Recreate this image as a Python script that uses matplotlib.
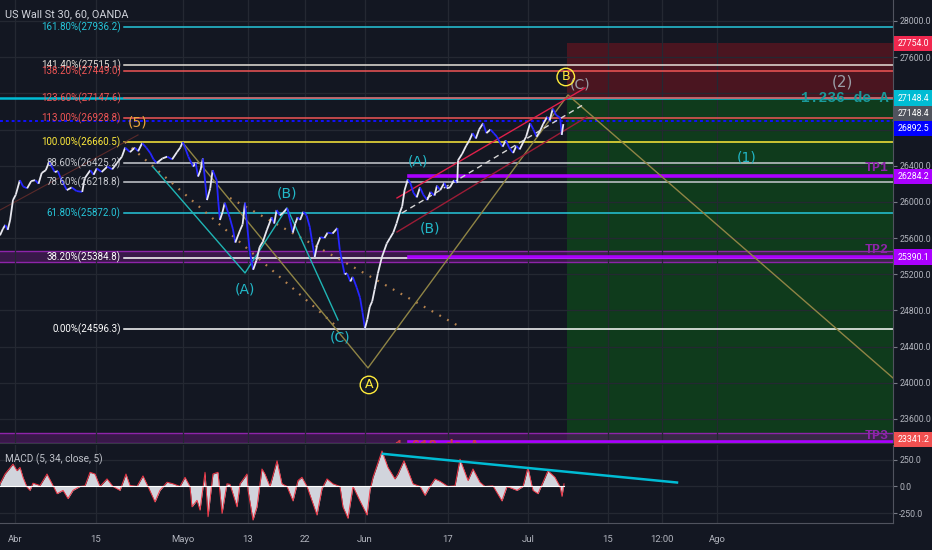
import matplotlib
matplotlib.use("Agg")
import matplotlib.pyplot as plt
from matplotlib import font_manager as fm
from matplotlib.collections import LineCollection
from matplotlib.patches import Rectangle

# ---------------- data (time in trading-session units, Abr 1 = 0) ----------------
price_day = [-1.85, -1.5, -1.2, -0.9, -0.6, -0.25, 0.1, 0.6, 1.0, 1.5, 2.0, 2.5, 2.9, 3.3, 3.8, 4.2, 4.6, 4.9,
             5.3, 5.6, 6.0, 6.4, 7.0, 7.6, 8.3, 8.6, 9.3, 9.7, 10.1, 10.7, 11.4, 12.0, 12.6, 13.2, 13.6, 14.2,
             14.8, 15.2, 15.7, 16.2, 16.7, 17.1, 17.5, 18.2, 18.8, 19.4, 20.0, 20.4, 20.7, 21.0, 21.4, 22.0,
             22.3, 22.6, 22.9, 23.2, 23.5, 23.7, 24.1, 24.4, 24.9, 25.1, 25.3, 25.6, 25.9, 26.5, 26.9, 27.2,
             27.8, 28.1, 28.4, 28.7, 29.0, 29.4, 29.8, 30.2, 30.6, 31.1, 31.7, 32.0, 32.3, 32.7, 33.1, 33.6,
             34.0, 34.3, 34.6, 34.9, 35.2, 35.6, 36.0, 36.4, 36.7, 37.0, 37.3, 37.7, 38.2, 38.6, 39.2, 39.8,
             40.1, 40.4, 40.7, 41.0, 41.4, 41.7, 42.2, 42.6, 42.9, 43.2, 43.5, 43.8, 44.1, 44.4, 44.8, 45.3,
             45.9, 46.3, 46.7, 47.1, 47.5, 47.8, 48.1, 48.5, 48.8, 49.2, 49.6, 50.0, 50.4, 50.9, 51.3, 51.8,
             52.1, 52.5, 53.0, 53.3, 53.7, 54.2, 54.6, 54.7, 55.2, 55.7, 56.1, 56.5, 56.9, 57.3, 57.8, 58.2,
             58.7, 59.1, 59.5, 59.9, 60.2, 60.6, 61.0, 61.5, 61.9, 62.3, 62.7, 63.1, 63.6, 64.0, 64.4, 64.8,
             65.2, 65.7, 66.0, 66.4, 66.8, 67.3, 67.5, 67.7]
price_val = [25630, 25700, 25745, 25690, 25800, 26020, 26080, 26240, 26170, 26150, 26230, 26240, 26200, 26320,
             26350, 26440, 26380, 26330, 26340, 26270, 26200, 26130, 26160, 26120, 26110, 26260, 26350, 26300,
             26370, 26330, 26390, 26360, 26430, 26500, 26600, 26550, 26600, 26560, 26650, 26600, 26540, 26470,
             26430, 26480, 26500, 26470, 26550, 26600, 26660, 26600, 26500, 26390, 26430, 26280, 26350, 26480,
             26200, 26020, 26150, 26350, 26240, 26000, 25800, 25880, 25990, 25830, 25700, 25550, 25690, 25750,
             25990, 25700, 25440, 25250, 25350, 25500, 25560, 25690, 25830, 25760, 25910, 25850, 25880, 25930,
             25780, 25660, 25760, 25830, 25800, 25890, 25850, 25720, 25550, 25390, 25520, 25610, 25600, 25660,
             25650, 25710, 25470, 25330, 25200, 25210, 25120, 25170, 25050, 24940, 24780, 24600, 24700, 24840,
             24900, 25030, 25210, 25390, 25540, 25600, 25660, 25760, 25880, 25950, 26130, 26250, 26210, 26100,
             26050, 26160, 26080, 26020, 26110, 26070, 26180, 26130, 26210, 26150, 26160, 26240, 26210, 26460,
             26530, 26620, 26680, 26760, 26700, 26800, 26870, 26760, 26800, 26760, 26720, 26650, 26610, 26680,
             26600, 26540, 26620, 26580, 26650, 26720, 26870, 26800, 26720, 26780, 26860, 26940, 26900, 27030,
             26960, 26930, 26740, 26860]

macd_day = [-1.85, -1.23, -0.25, 0.25, 0.62, 0.99, 1.48, 1.85, 2.22, 3.09, 3.95, 4.69, 5.19, 5.93, 6.54, 7.16,
            8.02, 8.64, 9.26, 9.88, 10.49, 11.36, 12.1, 12.96, 13.7, 14.2, 15.06, 15.8, 16.42, 17.28, 17.9,
            18.77, 19.51, 20.37, 20.99, 21.6, 21.85, 22.47, 22.84, 23.46, 23.83, 24.44, 25.06, 25.56, 26.17,
            26.54, 27.41, 27.78, 28.64, 28.77, 29.38, 29.88, 30.49, 30.86, 31.48, 32.35, 32.96, 33.58, 34.32,
            34.94, 35.43, 36.05, 37.28, 37.9, 38.52, 39.26, 40.12, 40.49, 41.11, 41.73, 42.59, 43.46, 43.83,
            44.2, 45.31, 46.05, 46.91, 47.28, 48.02, 48.52, 49.14, 50.0, 50.62, 51.23, 51.85, 52.47, 53.46,
            54.32, 54.94, 55.93, 56.54, 57.41, 58.02, 59.01, 60.12, 60.74, 61.98, 62.72, 63.33, 63.95, 64.57,
            65.19, 65.8, 66.67, 67.28, 67.53, 67.78]
macd_val = [25, 117, 210, 148, 179, 86, -6, -37, 31, 9, 117, 9, -68, -37, -114, -37, 0, 5, 133, 117, 0, 71,
            0, -37, 117, 9, 0, 99, 0, -145, -37, 40, 25, 0, 86, 0, -191, -130, -222, 133, -284, 117, 133,
            -253, 25, 20, -191, 25, 117, -37, -315, -191, 164, 117, 0, 241, 25, 0, -136, 56, 86, 0, -268,
            -21, 71, 25, 0, -191, -299, 0, -136, -268, -37, 86, 333, 179, 71, 117, 241, 148, 25, 0, -83, 0,
            71, 49, 0, 5, 256, 56, 164, 40, 0, 5, -136, 0, -37, 0, 179, -37, -68, 40, 148, 86, 0, -93, 25]
macd_trend_day = [45.43, 81.73]
macd_trend_val = [306, 37]

time_tick_day = [0, 10.0, 20.74, 28.77, 35.8, 43.2, 53.46, 63.33, 73.2, 79.88, 86.67]
time_tick_lbl = ["Abr", "15", "Mayo", "13", "22", "Jun", "17", "Jul", "15", "12:00", "Ago"]

fib_pct = ["161.80%", "141.40%", "138.20%", "123.60%", "113.00%", "100.00%", "88.60%", "78.60%",
           "61.80%", "38.20%", "0.00%"]
fib_level = [27936.2, 27515.1, 27449.0, 27147.6, 26928.8, 26660.5, 26425.2, 26218.8, 25872.0, 25384.8, 24596.3]
fib_color = ["#26c6da", "#e6e0d8", "#f05555", "#f05555", "#f05555", "#ffeb3b", "#c8cad0", "#c8cad0",
             "#26c6da", "#ffffff", "#ffffff"]
fib_start_day = 13.46

price_grid = [23600, 24000, 24400, 24800, 25200, 25600, 26000, 26400, 26800, 27200, 27600, 28000]
price_grid_lbl = ["23600.0", "24000.0", "24400.0", "24800.0", "25200.0", "25600.0", "26000.0", "26400.0",
                  "", "", "27600.0", "28000.0"]

# position tool
pos_start_day = 68.15
pos_entry = 27148.4
pos_stop = 27754.0
pos_target = 23341.2
tp1, tp2, tp3 = 26284.2, 25390.1, 23341.2
tp_line_start_day = 48.6
tp2_band = (25336, 25457)
tp3_band = (23334, 23445)
blue_level = 26892.5

# wave drawings (day, price)
abc_day = [17.04, 28.4, 33.58, 39.88]
abc_val = [26386, 25214, 25933, 24694]
khaki_day = [20.74, 43.58, 68.27, 108.4]
khaki_val = [26651, 24164, 27182, 24053]
dot1_day = [13.58, 39.5]
dot1_val = [26662, 24639]
dot2_day = [26.54, 55.19]
dot2_val = [26043, 24606]
faint_day = [-1.85, 15.19]
faint_val = [25910, 26740]
chan_up_day = [47.16, 70.37]
chan_up_val = [26043, 27259]
chan_lo_day = [47.16, 70.6]
chan_lo_val = [25667, 26939]
chan_mid_day = [47.78, 70.1]
chan_mid_val = [25877, 27071]

# ---------------- style ----------------
BG = "#131722"
GRID = "#242832"
AXTXT = "#b2b5be"
names = {f.name for f in fm.fontManager.ttflist}
NARROW = "Liberation Sans Narrow" if "Liberation Sans Narrow" in names else "Roboto"
MONO = "Liberation Mono" if "Liberation Mono" in names else "DejaVu Sans Mono"
AXFS = 6.3

W, H = 932, 550
fig = plt.figure(figsize=(W / 100, H / 100), dpi=100, facecolor=BG)
ax = fig.add_axes([0, 1 - 443 / H, 893 / W, 443 / H], facecolor=BG)
axm = fig.add_axes([0, 1 - 523 / H, 893 / W, 78 / H], facecolor=BG)

XMIN, XMAX = -1.852, 108.4
for a in (ax, axm):
    a.set_xlim(XMIN, XMAX)
    a.set_xticks(time_tick_day)
    a.grid(True, color=GRID, lw=0.9)
    a.set_axisbelow(True)
    for s in ("top", "left"):
        a.spines[s].set_visible(False)
    a.spines["right"].set_color("#50535e")
    a.spines["bottom"].set_color("#363a45")
    a.yaxis.tick_right()
    a.tick_params(axis="y", colors="#787b86", labelcolor=AXTXT, length=3, width=0.8, pad=1.5)

ax.set_ylim(23334, 28232)
ax.set_yticks(price_grid)
ax.set_yticklabels(price_grid_lbl, fontsize=AXFS, family=NARROW)
ax.tick_params(axis="x", length=0, labelbottom=False)

axm.set_ylim(-343, 389)
axm.set_yticks([-250, 0, 250])
axm.set_yticklabels(["-250.0", "0.0", "250.0"], fontsize=AXFS, family=NARROW)
axm.set_xticklabels(time_tick_lbl, fontsize=6.8, color=AXTXT, family=NARROW)
axm.tick_params(axis="x", length=0, pad=9)
axm.spines["bottom"].set_color("#50535e")

# ---------------- position tool ----------------
ax.add_patch(Rectangle((pos_start_day, pos_entry), XMAX - pos_start_day, pos_stop - pos_entry,
                       fc="#4a1520", ec="none", zorder=0.2))
ax.add_patch(Rectangle((pos_start_day, pos_target), XMAX - pos_start_day, pos_entry - pos_target,
                       fc="#0f3b1c", ec="none", zorder=0.2))

# purple bands
for lo, hi in (tp2_band, tp3_band):
    ax.axhspan(lo, hi, fc="#5a1a6a", alpha=0.55, ec="none", zorder=0.3)
    ax.axhline(hi, color="#8e24aa", lw=1.0, zorder=0.35)
    ax.axhline(lo, color="#8e24aa", lw=1.0, zorder=0.35)

# full-width horizontal lines
ax.axhline(pos_entry, color="#00bcd4", lw=1.8, zorder=1)
ax.axhline(blue_level, color="#1010ff", lw=1.4, ls=(0, (1.5, 1.5)), zorder=1)

# fib lines and labels
for pct, lvl, c in zip(fib_pct, fib_level, fib_color):
    ax.plot([fib_start_day, XMAX], [lvl, lvl], color=c, lw=1.1, zorder=1.2)
    ax.text(fib_start_day - 0.4, lvl, f"{pct}({lvl:.1f})", color=c, fontsize=7, family=NARROW,
            ha="right", va="center", zorder=3)

# TP lines
for lvl in (tp1, tp2, tp3):
    ax.plot([tp_line_start_day, XMAX], [lvl, lvl], color="#aa00ff", lw=2.6, zorder=1.3)

# ---------------- drawings ----------------
ax.plot(faint_day, faint_val, color="#5a2a2a", lw=0.8, zorder=1.5)
ax.plot(dot1_day, dot1_val, color="#b5824e", lw=1.6, ls=(0, (0.8, 3.2)), zorder=1.6)
ax.plot(dot2_day, dot2_val, color="#b5824e", lw=1.6, ls=(0, (0.8, 3.2)), zorder=1.6)
ax.plot(khaki_day, khaki_val, color="#8f8445", lw=1.0, zorder=1.6)
ax.plot(abc_day, abc_val, color="#1fb5b5", lw=1.0, zorder=1.7)
ax.plot(chan_up_day, chan_up_val, color="#e0204a", lw=1.0, zorder=1.7)
ax.plot(chan_lo_day, chan_lo_val, color="#9c1c36", lw=1.0, zorder=1.7)
ax.plot(chan_mid_day, chan_mid_val, color="#d8d8d8", lw=1.0, ls=(0, (4, 3)), zorder=1.7)

# price path, up segments white, down segments blue
segs, cols = [], []
for i in range(len(price_day) - 1):
    segs.append([(price_day[i], price_val[i]), (price_day[i + 1], price_val[i + 1])])
    cols.append("#e8e8f0" if price_val[i + 1] >= price_val[i] else "#2626ff")
ax.add_collection(LineCollection(segs, colors=cols, linewidths=1.3, zorder=2.5))

# wave labels
cy = "#22b8c8"
for txt, d, p in (("(A)", 28.4, 25026), ("(B)", 33.58, 26098), ("(C)", 40.12, 24495),
                  ("(A)", 49.75, 26441), ("(B)", 51.23, 25711)):
    ax.text(d, p, txt, color=cy, fontsize=10, ha="center", va="center", zorder=4)
ax.text(15.19, 26883, "(5)", color="#e8a33c", fontsize=10, ha="center", va="center", zorder=4)
ax.text(69.75, 27303, "(C)", color="#9a9da6", fontsize=10, ha="center", va="center", zorder=4)
ax.text(102.1, 27326, "(2)", color="#9a9da6", fontsize=11, ha="center", va="center", zorder=4)
ax.text(90.37, 26496, "(1)", color=cy, fontsize=10, ha="center", va="center", zorder=4)
for txt, d, p in (("A", 43.7, 23976), ("B", 68.0, 27381)):
    ax.text(d, p, txt, color="#ffeb3b", fontsize=9, ha="center", va="center", zorder=4,
            bbox=dict(boxstyle="circle,pad=0.18", fc="none", ec="#ffeb3b", lw=1.0))

ax.text(107.8, 27149, "1.236 de A", color="#1a9a9a", fontsize=10.5, family=MONO, weight="bold",
        ha="right", va="center", zorder=4)
ax.text(107.8, 26375, "TP1", color="#8e24aa", fontsize=9.5, family=MONO, weight="bold",
        ha="right", va="center", zorder=4)
ax.text(107.8, 25468, "TP2", color="#8e24aa", fontsize=9.5, family=MONO, weight="bold",
        ha="right", va="center", zorder=4)
ax.text(107.8, 23412, "TP3", color="#8e24aa", fontsize=9.5, family=MONO, weight="bold",
        ha="right", va="center", zorder=4)
ax.text(52.1, 23300, "1.618 de A", color="#d03a4a", fontsize=10, family=MONO, weight="bold",
        ha="center", va="center", zorder=4, clip_on=True)

# title
ax.text(0.006, 0.968, "US Wall St 30, 60, OANDA", transform=ax.transAxes, color="#d1d4dc",
        fontsize=7.8, family=NARROW, ha="left", va="center")

# right-axis coloured price labels
def plabel(a, val, text, fc, dy=0):
    a.annotate(text, xy=(1.0, val), xycoords=("axes fraction", "data"), xytext=(3.2, dy),
               textcoords="offset points", color="white", fontsize=AXFS, family=NARROW,
               ha="left", va="center", annotation_clip=False, zorder=10,
               bbox=dict(boxstyle="square,pad=0.35", fc=fc, ec="none"))

plabel(ax, pos_stop, "27754.0", "#f0284f")
plabel(ax, pos_entry, "27148.4", "#00bcd4")
plabel(ax, pos_entry, "27148.4", "#50535e", dy=-11.5)
plabel(ax, blue_level, "26892.5", "#0000ff", dy=-5.5)
plabel(ax, tp1, "26284.2", "#aa00ff")
plabel(ax, tp2, "25390.1", "#aa00ff")
plabel(ax, tp3, "23341.2", "#f05050", dy=2)

# ---------------- MACD ----------------
axm.fill_between(macd_day, 0, macd_val, color="#d1d4dc", lw=0, zorder=2)
axm.plot(macd_day, macd_val, color="#f23645", lw=0.7, zorder=2.5)
axm.plot([macd_day[0], macd_day[-1]], [0, 0], color="#ffffff", lw=0.8, zorder=2.6)
axm.plot(macd_trend_day, macd_trend_val, color="#00bcd4", lw=1.8, zorder=3)
axm.text(0.006, 0.82, "MACD (5, 34, close, 5)", transform=axm.transAxes, color="#c0c3cb",
         fontsize=7.2, family=NARROW, ha="left", va="center")

fig.savefig("out.png", dpi=100, facecolor=BG)
